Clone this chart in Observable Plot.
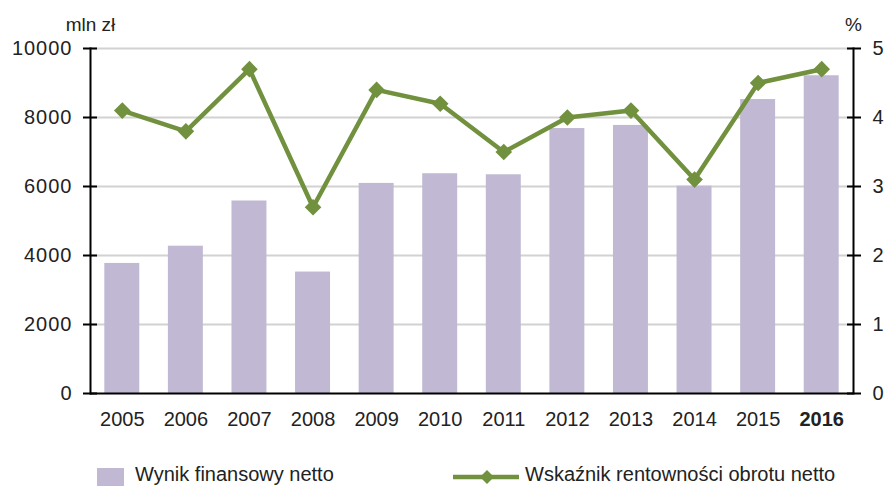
<!DOCTYPE html>
<html><head><meta charset="utf-8">
<script src="https://cdn.jsdelivr.net/npm/d3@7"></script>
<script src="https://cdn.jsdelivr.net/npm/@observablehq/plot@0.6"></script>
<style>
body{margin:0;background:#fff;font-family:"Liberation Sans",Arial,sans-serif;}
#wrap{position:relative;width:888px;height:486px;overflow:hidden;background:#fff;}
#wrap svg g[aria-label="y-axis tick label"] text{letter-spacing:1px;}
.lg{position:absolute;font-size:20px;line-height:20px;color:#222;white-space:nowrap;}
</style></head><body><div id="wrap"></div>
<script>
const years = ["2005","2006","2007","2008","2009","2010","2011","2012","2013","2014","2015","2016"];
const profit = [3770,4270,5580,3520,6090,6370,6340,7680,7770,6010,8520,9210];
const ratio = [4.1,3.8,4.7,2.7,4.4,4.2,3.5,4.0,4.1,3.1,4.5,4.7];
const leftTicks = [0,2000,4000,6000,8000,10000];
const rightTicks = [0,1,2,3,4,5];
const seriesNames = ["Wynik finansowy netto","Wskaźnik rentowności obrotu netto"];
const unitLeft = "mln zł", unitRight = "%";
const barColor = "#c1b9d3", lineColor = "#71913f";
const k = 2000; // right axis unit -> left axis unit

const data = years.map((y,i)=>({year:y, profit:profit[i], ratio:ratio[i]}));

const chart = Plot.plot({
  width:888, height:460,
  marginLeft:90, marginRight:35, marginTop:48, marginBottom:67,
  style:{fontFamily:'"Liberation Sans",Arial,sans-serif', fontSize:"20px", color:"#222", background:"#fff", overflow:"visible"},
  x:{type:"band", domain:years, paddingInner:0.45, paddingOuter:0.225, round:false, label:null},
  y:{domain:[0,10000], label:null},
  marks:[
    Plot.gridY(leftTicks.filter(d=>d>0), {stroke:"#d2d2d2", strokeOpacity:1, strokeWidth:2}),
    Plot.barY(data, {x:"year", y:"profit", fill:barColor}),
    Plot.line(data, {x:"year", y:d=>d.ratio*k, stroke:lineColor, strokeWidth:4.5}),
    Plot.dot(data, {x:"year", y:d=>d.ratio*k, symbol:"diamond2", r:7.5, fill:lineColor, stroke:null}),
    Plot.ruleY([0], {stroke:"#000", strokeWidth:2}),
    Plot.frame({anchor:"left", stroke:"#000", strokeWidth:2}),
    Plot.frame({anchor:"right", stroke:"#000", strokeWidth:2}),
    // crossing ticks
    Plot.axisY(leftTicks, {anchor:"left", tickSize:14, dx:7, tickFormat:()=>"", stroke:"#000", strokeWidth:2, label:null}),
    Plot.axisY(rightTicks.map(d=>d*k), {anchor:"right", tickSize:14, dx:-7, tickFormat:()=>"", stroke:"#000", strokeWidth:2, label:null}),
    // labels
    Plot.axisY(leftTicks, {anchor:"left", tickSize:0, tickPadding:18, tickFormat:d=>String(d), label:null, fill:"#222"}),
    Plot.axisY(rightTicks.map(d=>d*k), {anchor:"right", tickSize:0, tickPadding:19, tickFormat:d=>String(d/k), label:null, fill:"#222"}),
    Plot.axisX(years.filter(y=>y!=="2016"), {tickSize:0, tickPadding:18, label:null, fill:"#222"}),
    Plot.axisX(["2016"], {tickSize:0, tickPadding:18, label:null, fontWeight:"bold", fill:"#222"}),
    Plot.text([unitLeft], {frameAnchor:"top-left", dy:-18, textAnchor:"middle", lineAnchor:"bottom", fontSize:19, fill:"#222"}),
    Plot.text([unitRight], {frameAnchor:"top-right", dy:-18, textAnchor:"middle", lineAnchor:"bottom", fontSize:19, fill:"#222"})
  ]
});
const wrap = document.getElementById("wrap");
wrap.appendChild(chart);

// legend
const sw1 = document.createElement("div");
sw1.style.cssText = `position:absolute;left:97px;top:468px;width:27px;height:20px;background:${barColor};`;
wrap.appendChild(sw1);
const t1 = document.createElement("div");
t1.className = "lg"; t1.style.left = "135px"; t1.style.top = "464px"; t1.textContent = seriesNames[0];
wrap.appendChild(t1);
const sw2 = document.createElementNS("http://www.w3.org/2000/svg","svg");
sw2.setAttribute("width","70"); sw2.setAttribute("height","20");
sw2.style.cssText = "position:absolute;left:451px;top:467px;";
sw2.innerHTML = `<line x1="2" y1="10" x2="68" y2="10" stroke="${lineColor}" stroke-width="4.5"/><path d="M36,3L43,10L36,17L29,10Z" fill="${lineColor}"/>`;
wrap.appendChild(sw2);
const t2 = document.createElement("div");
t2.className = "lg"; t2.style.left = "525px"; t2.style.top = "464px"; t2.textContent = seriesNames[1];
wrap.appendChild(t2);
</script>
</body></html>
